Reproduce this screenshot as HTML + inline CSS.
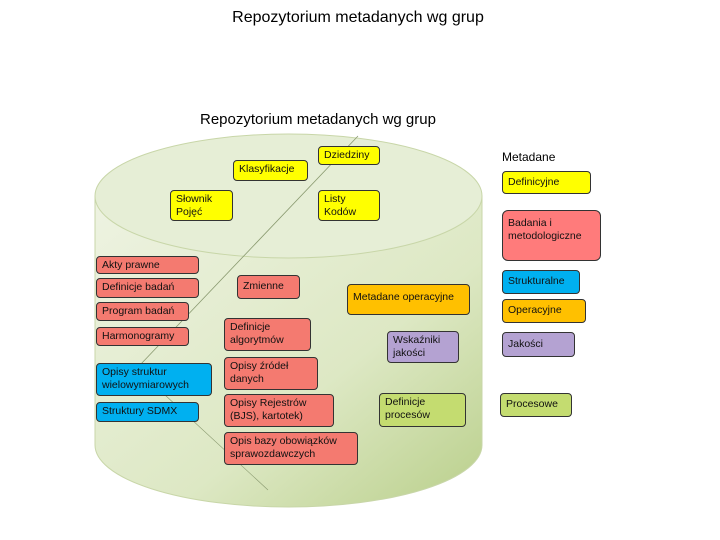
<!DOCTYPE html><html><head><meta charset="utf-8"><style>
body{margin:0;width:720px;height:540px;background:#fff;position:relative;overflow:hidden;font-family:"Liberation Sans",sans-serif}
.b{position:absolute;box-sizing:border-box;border:1px solid #333;border-radius:4px;font-size:10.5px;line-height:13px;padding:2px 5px;color:#111}
.y{background:#ffff00}.r{background:#f47a70}.c{background:#00b0f0}.o{background:#ffc000}.p{background:#b4a2d2}.g{background:#c4dc70}.pk{background:#ff7b7b}
.t{position:absolute;white-space:nowrap}
</style></head><body>
<div class="t" style="left:0;width:716px;text-align:center;top:9px;font-size:16px">Repozytorium metadanych wg grup</div>
<div class="t" style="left:200px;top:111px;font-size:15px">Repozytorium metadanych wg grup</div>
<svg width="720" height="540" style="position:absolute;left:0;top:0">
<defs><linearGradient id="gr" x1="0" y1="0" x2="1" y2="1"><stop offset="0" stop-color="#eef3e2"/><stop offset="0.6" stop-color="#dde8c4"/><stop offset="1" stop-color="#b9cf8a"/></linearGradient></defs>
<path d="M95 196 L95 445 A193.5 62 0 0 0 482 445 L482 196 Z" fill="url(#gr)" stroke="#c8d6a8"/>
<ellipse cx="288.5" cy="196" rx="193.5" ry="62" fill="#e6eed6" stroke="#c8d6a8"/>
<line x1="358" y1="136" x2="140" y2="365" stroke="#8a9a70" stroke-width="0.8"/>
<line x1="165" y1="395" x2="268" y2="490" stroke="#8a9a70" stroke-width="0.6"/>
</svg>
<div class="b y" style="left:233px;top:160px;width:75px;height:21px">Klasyfikacje</div>
<div class="b y" style="left:318px;top:146px;width:62px;height:19px">Dziedziny</div>
<div class="b y" style="left:170px;top:190px;width:63px;height:31px">Słownik<br>Pojęć</div>
<div class="b y" style="left:318px;top:190px;width:62px;height:31px">Listy<br>Kodów</div>
<div class="b r" style="left:96px;top:256px;width:103px;height:18px">Akty prawne</div>
<div class="b r" style="left:96px;top:278px;width:103px;height:20px">Definicje badań</div>
<div class="b r" style="left:96px;top:302px;width:93px;height:19px">Program badań</div>
<div class="b r" style="left:96px;top:327px;width:93px;height:19px">Harmonogramy</div>
<div class="b c" style="left:96px;top:363px;width:116px;height:33px">Opisy struktur<br>wielowymiarowych</div>
<div class="b c" style="left:96px;top:402px;width:103px;height:20px">Struktury SDMX</div>
<div class="b r" style="left:237px;top:275px;width:63px;height:24px;padding-top:4px">Zmienne</div>
<div class="b o" style="left:347px;top:284px;width:123px;height:31px;padding-top:6px">Metadane operacyjne</div>
<div class="b r" style="left:224px;top:318px;width:87px;height:33px">Definicje<br>algorytmów</div>
<div class="b r" style="left:224px;top:357px;width:94px;height:33px">Opisy źródeł<br>danych</div>
<div class="b r" style="left:224px;top:394px;width:110px;height:33px">Opisy Rejestrów<br>(BJS), kartotek)</div>
<div class="b r" style="left:224px;top:432px;width:134px;height:33px">Opis bazy obowiązków<br>sprawozdawczych</div>
<div class="b p" style="left:387px;top:331px;width:72px;height:32px">Wskaźniki<br>jakości</div>
<div class="b g" style="left:379px;top:393px;width:87px;height:34px">Definicje<br>procesów</div>
<div class="t" style="left:502px;top:150px;font-size:12px">Metadane</div>
<div class="b y" style="left:502px;top:171px;width:89px;height:23px;padding-top:4px">Definicyjne</div>
<div class="b pk" style="left:502px;top:210px;width:99px;height:51px;padding-top:6px;border-radius:6px">Badania i<br>metodologiczne</div>
<div class="b c" style="left:502px;top:270px;width:78px;height:24px;padding-top:4px">Strukturalne</div>
<div class="b o" style="left:502px;top:299px;width:84px;height:24px;padding-top:4px">Operacyjne</div>
<div class="b p" style="left:502px;top:332px;width:73px;height:25px;padding-top:5px">Jakości</div>
<div class="b g" style="left:500px;top:393px;width:72px;height:24px;padding-top:4px">Procesowe</div>
</body></html>
